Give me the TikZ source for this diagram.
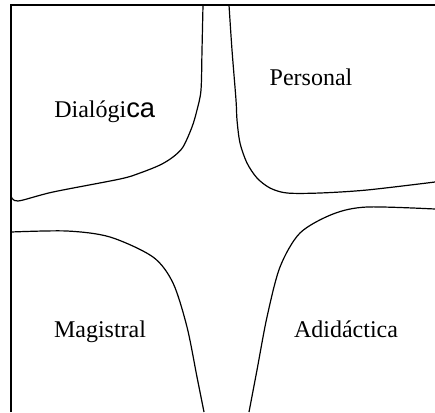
\documentclass[tikz,border=0pt]{standalone}
\usepackage{fontspec}
\setmainfont{Liberation Serif}
\newfontfamily\sansca{Liberation Sans}
\usepackage{tikz}
\usetikzlibrary{calc}
\tikzset{%
        x = 0.75pt,
        y = -0.75pt
}
\tikzstyle{frame}=[
    draw = black,
    line width = 1.1pt
]
\tikzstyle{border}=[
    draw = black,
    line width = 0.9pt,
    smooth,
    tension = 0.5
]
\tikzstyle{zone}=[
    font = \fontsize{18}{21}\selectfont,
    inner sep = 0pt
]
\begin{document}
\begin{tikzpicture}
            \useasboundingbox (0, 0) rectangle (435, 412);
            \draw[frame] (11, 412) -- (11, 5) -- (435, 5);
            % boundaries between the four zones
            \draw[border] plot coordinates {(203, 5) (202, 50) (201, 90) (197, 110) (192, 127) (183, 147) (173, 157) (160, 165) (140, 173) (120, 179) (53, 192) (18, 201) (11, 196)};
            \draw[border] plot coordinates {(229, 5) (232, 50) (236, 100) (237, 120) (240, 143) (247, 163) (257, 178) (270, 188) (287, 193) (320, 193) (367, 190) (435, 182)};
            \draw[border] plot coordinates {(11, 232) (67, 231) (110, 237) (153, 257) (173, 283) (187, 327) (197, 377) (204, 412)};
            \draw[border] plot coordinates {(249, 412) (257, 370) (267, 317) (280, 267) (300, 233) (333, 214) (367, 207) (435, 209)};
            \node[zone, anchor=base west] (dial) at (54, 117) {Dialógi{\sansca\fontsize{20.5}{21}\selectfont ca}};
            \node[zone, anchor=base] (pers) at (311, 85) {Personal};
            \node[zone, anchor=base] (mag) at (100, 337) {Magistral};
            \node[zone, anchor=base] (adid) at (346, 337) {Adidáctica};
        \end{tikzpicture}
\end{document}
